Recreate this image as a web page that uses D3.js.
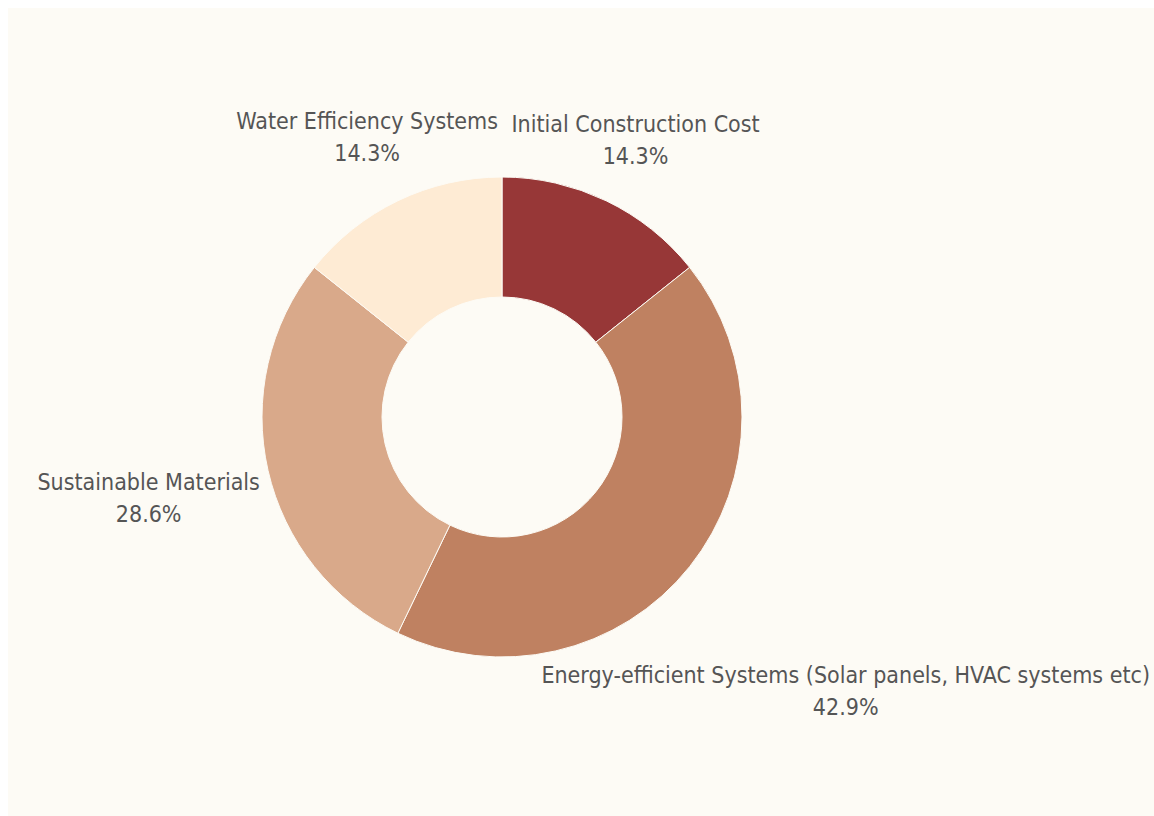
<!DOCTYPE html>
<html>
<head>
<meta charset="utf-8">
<script src="https://cdn.jsdelivr.net/npm/d3@7"></script>
<style>
  html, body { margin: 0; padding: 0; background: #ffffff; }
  svg { display: block; }
</style>
</head>
<body>
<svg id="chart" width="1154" height="816"></svg>
<script>
const categories = ["Initial Construction Cost", "Energy-efficient Systems (Solar panels, HVAC systems etc)", "Sustainable Materials", "Water Efficiency Systems"];
const values = [1, 3, 2, 1];
const colors = ["#973737", "#BF8161", "#D9A98A", "#FEEBD4"];

const W = 1154, H = 816;
const svg = d3.select("#chart");
svg.append("rect").attr("x", 8).attr("y", 8).attr("width", W - 8).attr("height", H - 8).attr("fill", "#FDFBF5");

const cx = 502, cy = 417, outerR = 240, innerR = 120;
const total = d3.sum(values);
const pie = d3.pie().sort(null).value(d => d.v);
const arcs = pie(categories.map((c, i) => ({ c, v: values[i], col: colors[i] })));
const arc = d3.arc().innerRadius(innerR).outerRadius(outerR);

const g = svg.append("g").attr("transform", `translate(${cx},${cy})`);
g.selectAll("path").data(arcs).join("path")
  .attr("d", arc)
  .attr("fill", d => d.data.col)
  .attr("stroke", "#FDFBF5")
  .attr("stroke-width", 1);

const fmt = v => (v / total * 100).toFixed(1) + "%";
const fontFamily = "'Liberation Sans Narrow', 'DejaVu Sans Condensed', 'Roboto', sans-serif";
const fs = 23, lineH = 32;

arcs.forEach(d => {
  const mid = (d.startAngle + d.endAngle) / 2;
  const s = Math.sin(mid), c = -Math.cos(mid);
  const t = g.append("text")
    .attr("font-family", fontFamily)
    .attr("font-size", fs)
    .attr("fill", "#555555")
    .attr("text-anchor", "middle");
  t.append("tspan").attr("x", 0).attr("dy", 0).text(d.data.c);
  t.append("tspan").attr("x", 0).attr("dy", lineH).text(fmt(d.data.v));
  const bb = t.node().getBBox();
  const w = bb.width, h = bb.height;
  let dist = outerR + 14 + Math.abs(s) * w / 2;
  // clamp within the canvas horizontally
  const maxRight = W - 4 - cx;
  if (s > 0 && dist * s + w / 2 > maxRight) dist = (maxRight - w / 2) / s;
  const lx = dist * s, ly = dist * c;
  // center the box vertically on (lx, ly)
  const boxCenterOffset = bb.y + h / 2;
  t.attr("transform", `translate(${lx},${ly - boxCenterOffset})`);
});
</script>
</body>
</html>
